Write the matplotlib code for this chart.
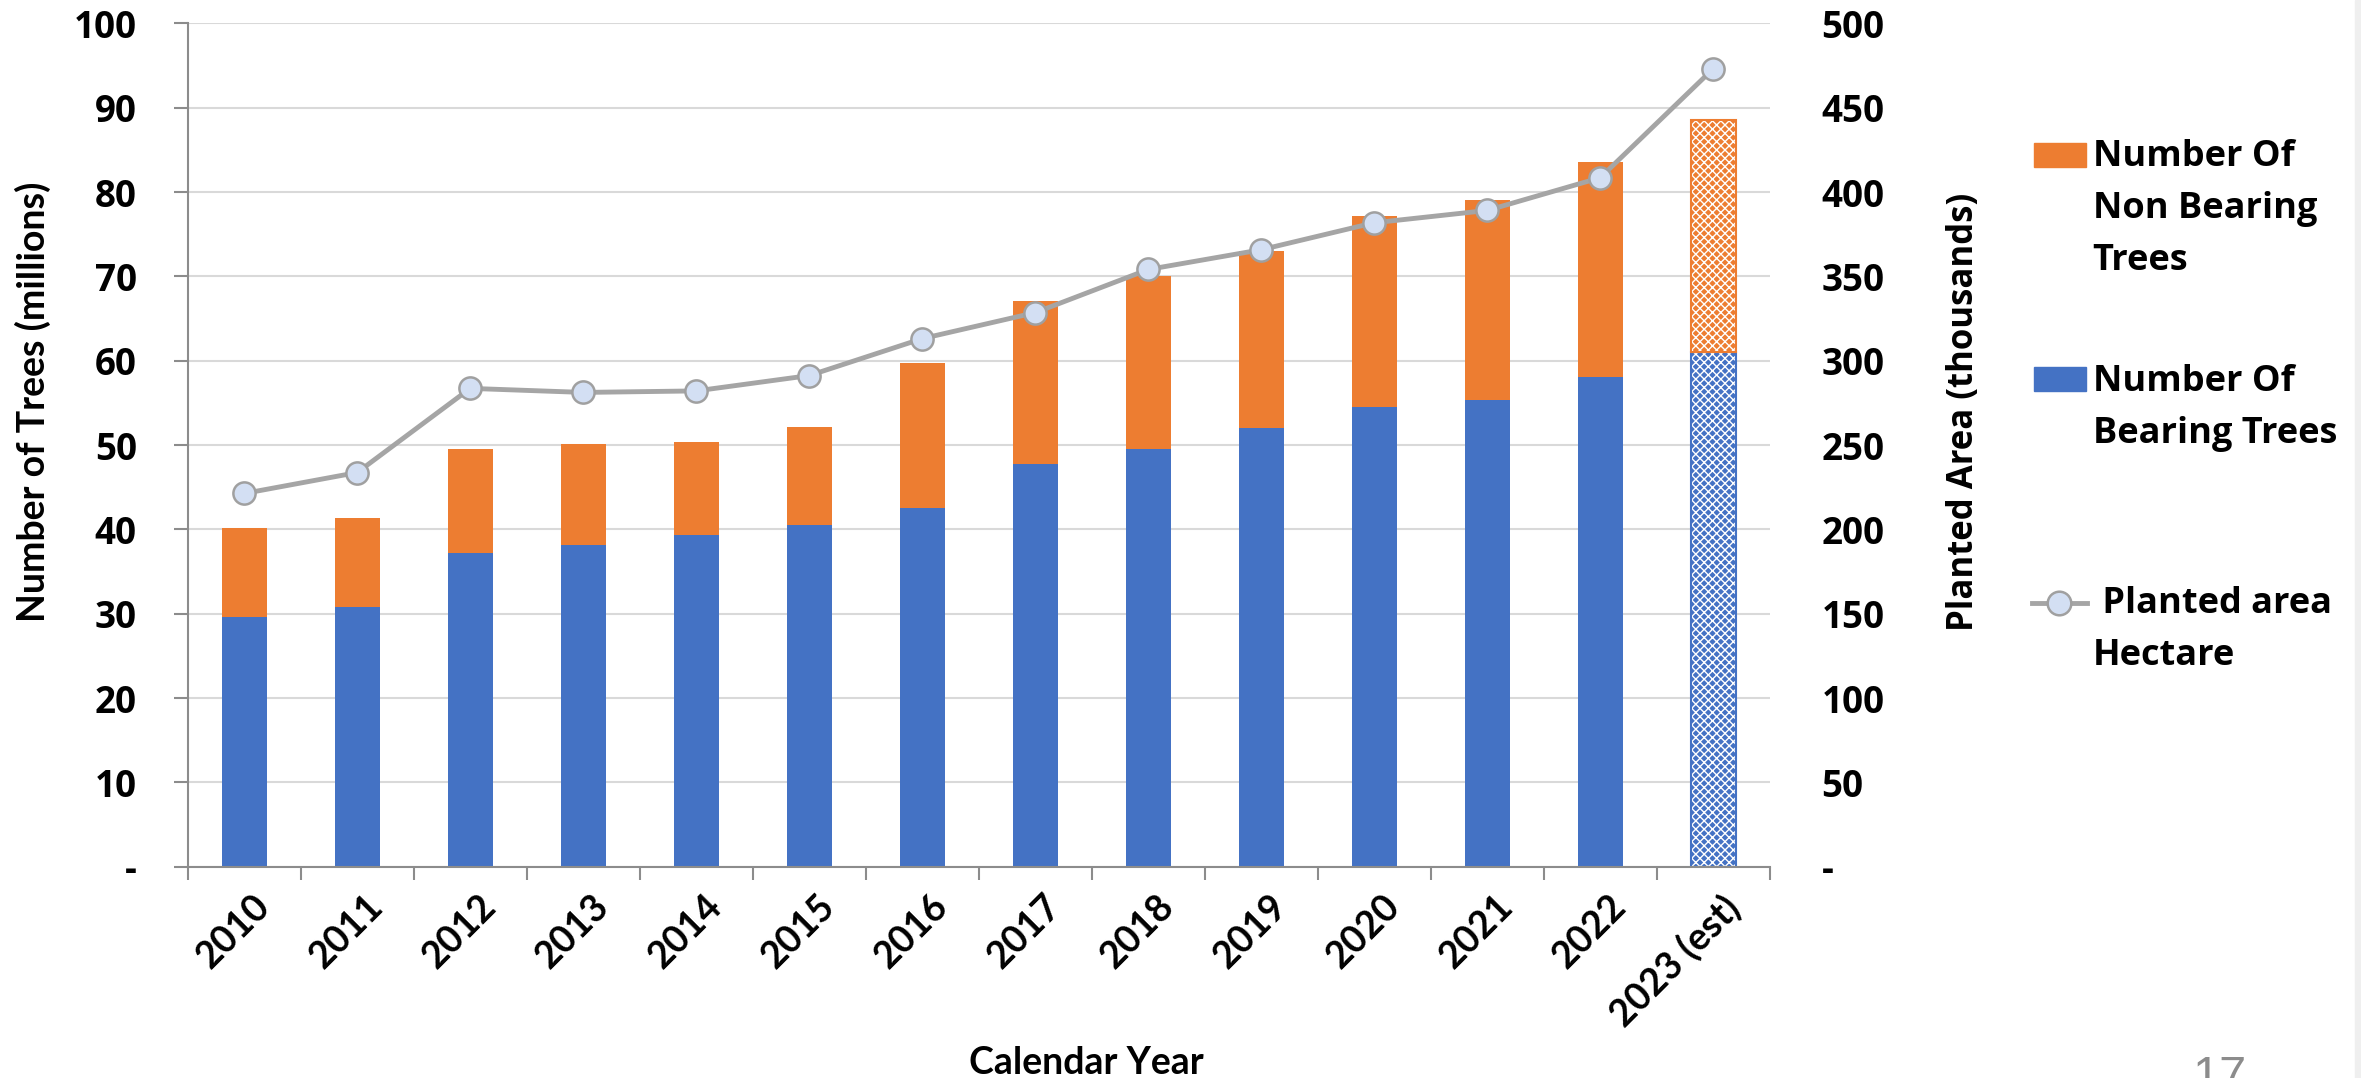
import numpy as np
import matplotlib.pyplot as plt
import matplotlib.colors as mcolors
from matplotlib.lines import Line2D
from matplotlib.patches import Rectangle
from matplotlib.transforms import ScaledTranslation

# data
years = ['2010', '2011', '2012', '2013', '2014', '2015', '2016',
         '2017', '2018', '2019', '2020', '2021', '2022', '2023 (est)']
bearing = [29.6, 30.8, 37.2, 38.1, 39.3, 40.5, 42.5,
           47.7, 49.5, 52.0, 54.5, 55.4, 58.1, 61.0]          # millions
non_bearing = [10.6, 10.5, 12.3, 12.0, 11.1, 11.6, 17.2,
               19.4, 20.5, 21.0, 22.7, 23.7, 25.5, 27.6]      # millions
planted_area = [221.3, 233.7, 283.6, 281.2, 282.1, 291.2, 313.1,
                328.5, 354.1, 365.8, 381.8, 389.1, 408.5, 473.1]  # thousand ha

left_ticks = list(range(0, 101, 10))
right_ticks = list(range(0, 501, 50))

blue = '#4472C4'
orange = '#ED7D31'
line_gray = '#A5A5A5'
axis_gray = '#8C8C8C'
grid_gray = '#D9D9D9'
marker_face = '#D3DFF3'
marker_edge = '#A0A0A0'

W, H = 2361, 1078  # figure size in pixels

plt.rcParams['hatch.linewidth'] = 1.0

fig = plt.figure(figsize=(W/100, H/100), dpi=100)
ax = fig.add_axes([187.7/W, 1 - 866.7/H, 1582/W, 843.3/H])

x = np.arange(len(years))
b1 = ax.bar(x, bearing, 0.4, color=blue, zorder=2)
b2 = ax.bar(x, non_bearing, 0.4, bottom=bearing, color=orange, zorder=2)
# estimated year: patterned fill with a solid outline
for bars, c in ((b1, blue), (b2, orange)):
    p = bars[-1]
    p.set_hatch('xxxx')
    p.set_edgecolor(c)
    p.set_linewidth(1.5)
    p._hatch_color = mcolors.to_rgba('white')

ax.set_xlim(-0.5, len(years) - 0.5)
ax.set_ylim(0, 100)
ax.set_yticks(left_ticks, ['-'] + [str(v) for v in left_ticks[1:]],
              fontfamily='Open Sans', fontweight='bold', fontsize=26.5)
ax.yaxis.grid(True, color=grid_gray, lw=1.5)
ax.set_axisbelow(True)
for s in ('top', 'right'):
    ax.spines[s].set_visible(False)
for s in ('left', 'bottom'):
    ax.spines[s].set_color(axis_gray)
    ax.spines[s].set_linewidth(1.5)
ax.tick_params(axis='y', length=10, width=1.5, color=axis_gray, pad=26.7)

ax.set_xticks(x, years, fontfamily='Lato', fontweight='bold', fontsize=27,
              rotation=45, ha='right', va='top', rotation_mode='anchor')
ax.set_xticks(np.arange(-0.5, len(years), 1), minor=True)
ax.tick_params(axis='x', which='major', length=0, pad=16)
ax.tick_params(axis='x', which='minor', length=9.6, width=1.5, color=axis_gray)
shift = ScaledTranslation(0.08, 0, fig.dpi_scale_trans)
for lab in ax.get_xticklabels():
    lab.set_transform(lab.get_transform() + shift)

ax.set_xlabel('Calendar Year', fontfamily='Lato', fontweight='bold', fontsize=27)
ax.xaxis.set_label_coords(0.5678, -0.2458)
ax.xaxis.label.set_va('baseline')
ax.set_ylabel('Number of Trees (millions)', fontfamily='Lato',
              fontweight='bold', fontsize=27)
ax.yaxis.set_label_coords(-0.0981, 0.551)
ax.yaxis.label.set_va('center')

ax2 = ax.twinx()
ax2.plot(x, planted_area, color=line_gray, lw=3.5, marker='o', ms=16,
         mfc=marker_face, mec=marker_edge, mew=1.8, zorder=3)
ax2.set_ylim(0, 500)
ax2.set_yticks(right_ticks, ['-'] + [str(v) for v in right_ticks[1:]],
               fontfamily='Open Sans', fontweight='bold', fontsize=26.5)
ax2.tick_params(axis='y', length=0, pad=37.4)
for s in ax2.spines.values():
    s.set_visible(False)
ax2.set_ylabel('Planted Area (thousands)', fontfamily='Open Sans',
               fontweight='bold', fontsize=25)
ax2.yaxis.set_label_coords(1.1228, 0.5392)
ax2.yaxis.label.set_va('center')

# legend, laid out by hand so the keys sit on the first text line
legend_font = dict(fontfamily='Open Sans', fontweight='bold', fontsize=26,
                   linespacing=1.58, va='top', ha='left')
fig.add_artist(Rectangle((2034/W, 1 - 166.7/H), 52/W, 23.4/H,
                         transform=fig.transFigure, color=orange))
fig.text(2092.7/W, 1 - 139.3/H, 'Number Of\nNon Bearing\nTrees', **legend_font)
fig.add_artist(Rectangle((2034/W, 1 - 390.7/H), 52/W, 23.4/H,
                         transform=fig.transFigure, color=blue))
fig.text(2092.7/W, 1 - 364.3/H, 'Number Of\nBearing Trees', **legend_font)
fig.add_artist(Line2D([2031.7/W, 2087.3/W], [1 - 603.3/H] * 2,
                      transform=fig.transFigure, color=line_gray, lw=3.5))
fig.add_artist(Line2D([2059.3/W], [1 - 603.3/H], transform=fig.transFigure,
                      marker='o', ms=17, mfc=marker_face, mec=marker_edge,
                      mew=1.8))
fig.text(2092.7/W, 1 - 585.9/H, ' Planted area\nHectare', **legend_font)

# slide number (cut by the bottom edge, as in the slide) and the right strip
fig.text(2192/W, 1 - 1090/H, '17', fontfamily='Liberation Sans', fontsize=35,
         color=axis_gray, va='baseline')
fig.add_artist(Rectangle((2355/W, 0), 6/W, 1, transform=fig.transFigure,
                         color='#EFEFEF'))

fig.savefig('out.png', dpi=100)
